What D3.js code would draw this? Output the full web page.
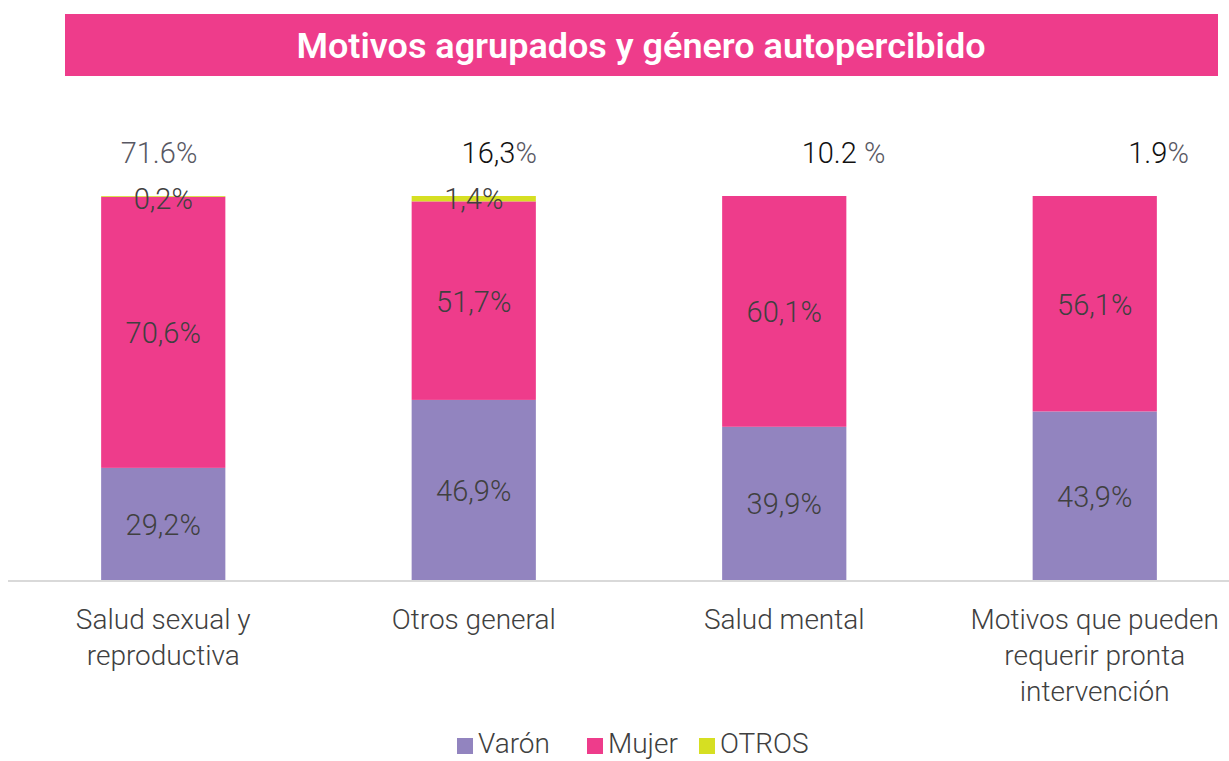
<!DOCTYPE html>
<html><head><meta charset="utf-8">
<script src="https://cdn.jsdelivr.net/npm/d3@7"></script>
<style>body{margin:0;background:#fff}svg{display:block}text{font-family:Roboto,"Open Sans",sans-serif}</style>
</head><body>
<svg id="c" width="1229" height="761"></svg>
<script>
const categories = [["Salud sexual y","reproductiva"],["Otros general"],["Salud mental"],["Motivos que pueden","requerir pronta","intervención"]];
const seriesNames = ["Varón","Mujer","OTROS"];
const varon = [29.2, 46.9, 39.9, 43.9];
const mujer = [70.6, 51.7, 60.1, 56.1];
const otros = [0.2, 1.4, 0, 0];
const segLabels = [["29,2%","70,6%","0,2%"],["46,9%","51,7%","1,4%"],["39,9%","60,1%",""],["43,9%","56,1%",""]];
const totalNum = ["71.6","16,3","10.2 ","1.9"];
const totalPct = ["%","%","%","%"];
const title = "Motivos agrupados y género autopercibido";

const colors = ["#9284BF","#EE3C8B","#D6DF22"];
const svg = d3.select("#c");

svg.append("rect").attr("x",65).attr("y",14).attr("width",1153).attr("height",62).attr("fill","#EE3C8B");
svg.append("text").attr("x",641).attr("y",58).attr("text-anchor","middle").attr("fill","#fff")
  .attr("font-size",35).attr("font-weight",600).attr("textLength",689).attr("lengthAdjust","spacingAndGlyphs").text(title);

const x = d3.scaleBand().domain(d3.range(categories.length)).range([8,1250]).paddingInner(0.6).paddingOuter(0.3);
const y = d3.scaleLinear().domain([0,100]).range([580,196]);

const rows = categories.map((c,i)=>({i, Varón:varon[i], Mujer:mujer[i], OTROS:otros[i]}));
const stack = d3.stack().keys(seriesNames)(rows);

stack.forEach((layer,k)=>{
  svg.append("g").selectAll("rect").data(layer).join("rect")
    .attr("x",d=>x(d.data.i)).attr("width",x.bandwidth())
    .attr("y",d=>y(d[1])).attr("height",d=>y(d[0])-y(d[1]))
    .attr("fill",colors[k]);
});

// segment labels
stack.forEach((layer,k)=>{
  svg.append("g").selectAll("text").data(layer).join("text")
    .attr("x",d=>x(d.data.i)+x.bandwidth()/2)
    .attr("y",d=> k===2 ? y(d[1])+13 : (y(d[0])+y(d[1]))/2+11)
    .attr("text-anchor","middle").attr("font-size",29).attr("font-weight",300).attr("fill","#404040")
    .text(d=>segLabels[d.data.i][k]);
});

// axis line
svg.append("line").attr("x1",8).attr("x2",1229).attr("y1",y(0)+1).attr("y2",y(0)+1).attr("stroke","#d9d9d9").attr("stroke-width",2);

// top totals
const topDx = [-28, 1, 39, 32];
categories.forEach((c,i)=>{
  const t = svg.append("text").attr("x",x(i)+x.bandwidth()+topDx[i]).attr("y",y(100)-33)
    .attr("text-anchor","end").attr("font-size",29).attr("font-weight",300);
  t.append("tspan").attr("fill", i===0 ? "#585863" : "#111").text(totalNum[i]);
  t.append("tspan").attr("fill","#585863").text(totalPct[i]);
});

// category labels
categories.forEach((c,i)=>{
  const t = svg.append("text").attr("text-anchor","middle").attr("font-size",28).attr("font-weight",300).attr("fill","#404040");
  c.forEach((line,j)=>t.append("tspan").attr("x",x(i)+x.bandwidth()/2).attr("y",629+j*36).text(line));
});

// legend
const legX = [457,587,699];
seriesNames.forEach((s,k)=>{
  svg.append("rect").attr("x",legX[k]).attr("y",738).attr("width",16).attr("height",16).attr("fill",colors[k]);
  svg.append("text").attr("x",legX[k]+21).attr("y",753).attr("font-size",28).attr("font-weight",300).attr("fill","#404040").text(s);
});
</script>
</body></html>
